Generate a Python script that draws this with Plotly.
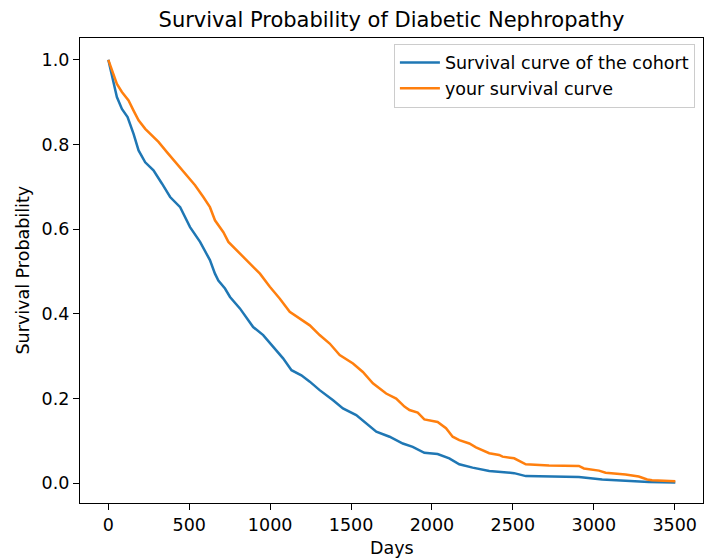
import plotly.graph_objects as go

# Kaplan-Meier style survival estimates (days, probability)
cohort_days = [0, 33, 53, 84, 119, 156, 187, 228, 279, 331, 382, 444, 505, 567, 628,
               659, 680, 721, 752, 813, 895, 957, 1019, 1080, 1132, 1193, 1245, 1306,
               1389, 1450, 1532, 1594, 1656, 1738, 1820, 1881, 1953, 2035, 2107, 2169,
               2251, 2354, 2415, 2508, 2580, 2723, 2908, 3052, 3278, 3340, 3504]
cohort_surv = [1.0, 0.943, 0.912, 0.884, 0.865, 0.825, 0.786, 0.758, 0.739, 0.708,
               0.676, 0.652, 0.605, 0.570, 0.527, 0.495, 0.479, 0.460, 0.440, 0.413,
               0.369, 0.350, 0.322, 0.295, 0.267, 0.255, 0.240, 0.220, 0.196, 0.177,
               0.161, 0.142, 0.122, 0.110, 0.094, 0.086, 0.072, 0.069, 0.059, 0.045,
               0.037, 0.029, 0.027, 0.024, 0.017, 0.016, 0.015, 0.009, 0.005, 0.003,
               0.002]

your_days = [0, 23, 53, 84, 125, 156, 187, 228, 269, 310, 362, 423, 485, 536, 587, 628,
             659, 680, 711, 742, 793, 855, 906, 937, 998, 1060, 1121, 1183, 1245, 1306,
             1368, 1430, 1512, 1573, 1635, 1717, 1779, 1830, 1861, 1912, 1953, 2035,
             2087, 2128, 2169, 2231, 2272, 2354, 2415, 2436, 2508, 2580, 2723, 2908,
             2939, 3032, 3073, 3196, 3278, 3330, 3360, 3504]
your_surv = [1.0, 0.975, 0.943, 0.924, 0.904, 0.880, 0.857, 0.837, 0.821, 0.806, 0.782,
             0.755, 0.727, 0.704, 0.676, 0.652, 0.621, 0.609, 0.593, 0.570, 0.550,
             0.527, 0.507, 0.495, 0.464, 0.436, 0.405, 0.389, 0.373, 0.350, 0.330,
             0.303, 0.283, 0.263, 0.236, 0.212, 0.200, 0.181, 0.173, 0.167, 0.151,
             0.145, 0.130, 0.110, 0.102, 0.094, 0.085, 0.071, 0.067, 0.063, 0.059,
             0.045, 0.042, 0.041, 0.035, 0.030, 0.025, 0.021, 0.016, 0.009, 0.007,
             0.005]

x_ticks = [0, 500, 1000, 1500, 2000, 2500, 3000, 3500]
y_ticks = [0.0, 0.2, 0.4, 0.6, 0.8, 1.0]

FONT = "DejaVu Sans"
TXT = 17.5

fig = go.Figure()
fig.add_trace(go.Scatter(x=cohort_days, y=cohort_surv, mode="lines",
                         name="Survival curve of the cohort",
                         line=dict(color="#1f77b4", width=2.5)))
fig.add_trace(go.Scatter(x=your_days, y=your_surv, mode="lines",
                         name="your survival curve",
                         line=dict(color="#ff7f0e", width=2.5)))

axis_common = dict(showline=True, linecolor="black", linewidth=1.2, mirror=True,
                   ticks="outside", ticklen=6, tickwidth=1.2, tickcolor="black",
                   showgrid=False, zeroline=False,
                   tickfont=dict(family=FONT, size=TXT, color="black"))

fig.update_xaxes(range=[-175, 3675], tickvals=x_ticks,
                 ticktext=[str(v) for v in x_ticks], **axis_common)
fig.update_yaxes(range=[-0.0465, 1.0515], tickvals=y_ticks,
                 ticktext=[f"{v:.1f}" for v in y_ticks], **axis_common)

fig.update_layout(
    width=704, height=558,
    margin=dict(l=80, r=1, t=38, b=55, pad=0),
    plot_bgcolor="white", paper_bgcolor="white",
    font=dict(family=FONT, size=TXT, color="black"),
    title=dict(text="Survival Probability of Diabetic Nephropathy",
               font=dict(family=FONT, size=21, color="black"),
               x=0.5, xref="paper", xanchor="center",
               y=1 - 20 / 558, yref="container", yanchor="middle"),
    legend=dict(x=0.987, y=0.988, xanchor="right", yanchor="top",
                itemwidth=40,
                bgcolor="rgba(255,255,255,0.8)", bordercolor="#cccccc",
                borderwidth=1, font=dict(family=FONT, size=TXT, color="black")),
    showlegend=True,
    annotations=[
        dict(text="Days", x=0.5, xref="paper", y=-(548 - 503) / 465, yref="paper",
             xanchor="center", yanchor="middle", showarrow=False,
             font=dict(family=FONT, size=TXT, color="black")),
        dict(text="Survival Probability", textangle=-90,
             x=-(80 - 22) / 623, xref="paper", y=0.5, yref="paper",
             xanchor="center", yanchor="middle", showarrow=False,
             font=dict(family=FONT, size=TXT, color="black")),
    ],
)

fig.write_html("out.html")
